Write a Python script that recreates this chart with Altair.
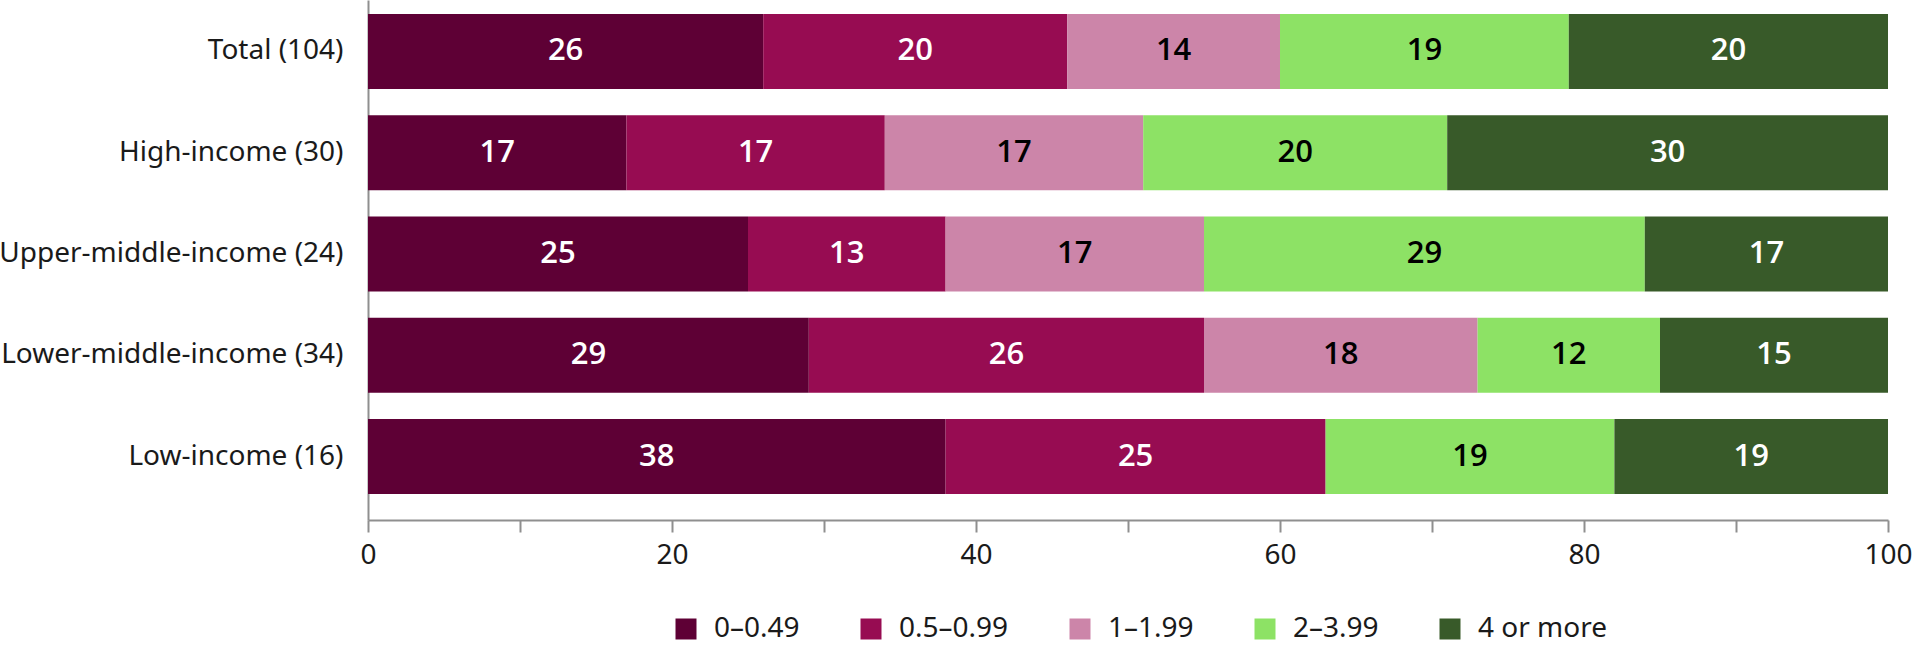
import altair as alt
import pandas as pd

# ---- data ----
groups = [
    "Total (104)",
    "High-income (30)",
    "Upper-middle-income (24)",
    "Lower-middle-income (34)",
    "Low-income (16)",
]
categories = ["0–0.49", "0.5–0.99", "1–1.99", "2–3.99", "4 or more"]

share_0_049 = [26, 17, 25, 29, 38]
share_05_099 = [20, 17, 13, 26, 25]
share_1_199 = [14, 17, 17, 18, 0]
share_2_399 = [19, 20, 29, 12, 19]
share_4_more = [20, 30, 17, 15, 19]

colors = ["#5e0035", "#970c52", "#cc85a9", "#8de265", "#385a29"]
text_colors = ["white", "white", "black", "black", "white"]
x_ticks = list(range(0, 101, 10))

series = [share_0_049, share_05_099, share_1_199, share_2_399, share_4_more]
rows = []
for ci, (cat, vals) in enumerate(zip(categories, series)):
    for g, v in zip(groups, vals):
        rows.append({"group": g, "category": cat, "order": ci, "value": v,
                     "tcolor": text_colors[ci]})
df = pd.DataFrame(rows)

FONT = "Noto Sans"
AXIS_GREY = "#8f8f8f"
TEXT = "#1a1a1a"

last = len(categories) - 1
base = (
    alt.Chart(df)
    .transform_filter("datum.value > 0")
    .transform_window(cum="sum(value)", groupby=["group"],
                      sort=[alt.SortField("order")], frame=[None, 0])
    .transform_calculate(
        start="datum.cum - datum.value",
        end=f"datum.order == {last} ? 100 : min(datum.cum, 100)",
    )
    .transform_calculate(mid="(datum.start + datum.end) / 2")
)

y_enc = alt.Y(
    "group:N", sort=groups, title=None,
    scale=alt.Scale(paddingInner=0.26, paddingOuter=0.197, align=0.35),
    axis=alt.Axis(ticks=False, labelPadding=25, domainColor=AXIS_GREY,
                  domainWidth=2, labelFontSize=28, labelColor=TEXT,
                  labelLimit=500, labelFont=FONT),
)

x_scale = alt.Scale(domain=[0, 100], nice=False, zero=True)

bars = base.mark_bar().encode(
    x=alt.X("start:Q", scale=x_scale, title=None,
            axis=alt.Axis(values=x_ticks,
                          labelExpr="datum.value % 20 == 0 ? datum.label : ''",
                          tickSize=12, tickWidth=2, tickColor=AXIS_GREY,
                          domainColor=AXIS_GREY, domainWidth=2, grid=False,
                          labelFontSize=28, labelColor=TEXT, labelPadding=9,
                          labelFlush=False, labelOverlap=False, labelFont=FONT)),
    x2="end:Q",
    y=y_enc,
    color=alt.Color(
        "category:N",
        scale=alt.Scale(domain=categories, range=colors),
        legend=alt.Legend(
            orient="none", legendX=304, legendY=615, direction="horizontal",
            title=None, symbolType="square", symbolSize=441,
            symbolStrokeWidth=0, labelFontSize=28, labelColor=TEXT,
            labelFont=FONT, labelOffset=14, columnPadding=57, padding=0,
            labelLimit=300,
        ),
    ),
)

labels = base.mark_text(fontSize=31, fontWeight=600, font="Open Sans",
                        align="center", baseline="middle").encode(
    x=alt.X("mid:Q", scale=x_scale),
    y=alt.Y("group:N", sort=groups),
    text=alt.Text("value:Q", format=".0f"),
    color=alt.Color("tcolor:N", scale=None),
)

chart = (
    alt.layer(bars, labels)
    .properties(
        width=1520, height=520,
        autosize=alt.AutoSizeParams(type="none"),
        padding={"left": 368, "top": 0, "right": 25, "bottom": 131},
    )
    .configure(font=FONT)
    .configure_view(stroke=None)
)

chart.save("out.html", embed_options={"renderer": "svg", "actions": False})
